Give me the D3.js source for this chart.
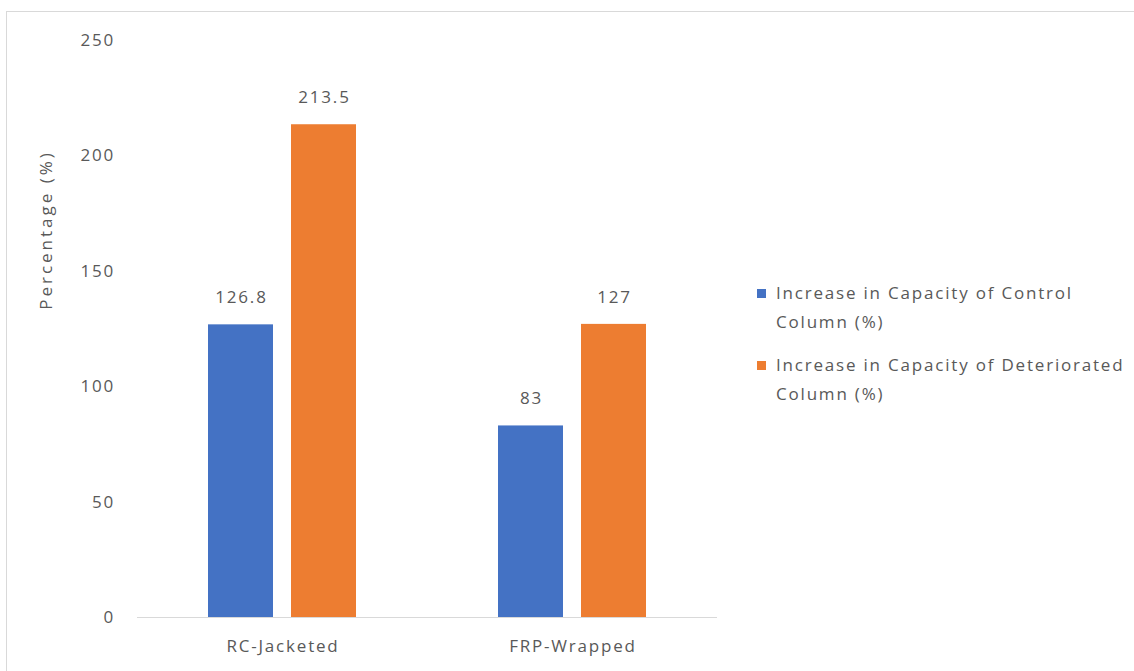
<!DOCTYPE html>
<html lang="en">
<head>
    <meta charset="UTF-8">
    <title>Increase in Capacity</title>
    <style>
        body { margin: 0; background: #fff; }
        text { font-family: "Open Sans", "Liberation Sans", sans-serif; fill: #595959; font-size: 17px; letter-spacing: 1.8px; }
    </style>
</head>
<body>
    <svg id="chart" width="1134" height="671"></svg>
    <script src="https://d3js.org/d3.v7.min.js"></script>
    <script>
        var categories = ["RC-Jacketed", "FRP-Wrapped"];
        var seriesNames = ["Increase in Capacity of Control Column (%)", "Increase in Capacity of Deteriorated Column (%)"];
        var controlValues = [126.8, 83];
        var deterioratedValues = [213.5, 127];
        var yTicks = [0, 50, 100, 150, 200, 250];
        var colors = ["#4472c4", "#ed7d31"];

        var svg = d3.select("#chart");

        // chart frame
        svg.append("rect")
           .attr("x", 6.5).attr("y", 11.5)
           .attr("width", 1140).attr("height", 680)
           .attr("fill", "none").attr("stroke", "#d9d9d9");

        var x = d3.scaleBand().domain(categories).range([137, 717]);
        var x1 = d3.scaleBand().domain([0, 1]).range([x.bandwidth() / 2 - 74, x.bandwidth() / 2 + 74]).paddingInner(0.217);
        var y = d3.scaleLinear().domain([0, 250]).range([617, 40]);

        // y tick labels
        svg.selectAll(".ytick").data(yTicks).enter().append("text")
           .attr("x", 115).attr("y", d => y(d))
           .attr("dy", "0.35em").attr("text-anchor", "end")
           .text(d => d);

        // axis title
        svg.append("text")
           .attr("transform", "translate(46,230) rotate(-90)")
           .attr("dy", "0.35em")
           .attr("text-anchor", "middle")
           .style("letter-spacing", "3px")
           .text("Percentage (%)");

        var rows = categories.map((c, i) => ({ cat: c, vals: [controlValues[i], deterioratedValues[i]] }));
        var groups = svg.selectAll(".grp").data(rows).enter().append("g")
                        .attr("transform", d => "translate(" + x(d.cat) + ",0)");
        var bars = groups.selectAll("g").data(d => d.vals.map((v, k) => ({ v: v, k: k }))).enter();
        bars.append("rect")
            .attr("x", d => x1(d.k)).attr("width", x1.bandwidth())
            .attr("y", d => y(d.v)).attr("height", d => y(0) - y(d.v))
            .attr("fill", d => colors[d.k]);
        bars.append("text")
            .attr("x", d => x1(d.k) + x1.bandwidth() / 2 + 1)
            .attr("y", d => y(d.v) - 27)
            .attr("dy", "0.35em").attr("text-anchor", "middle")
            .text(d => d.v);

        // baseline
        svg.append("line")
           .attr("x1", 137).attr("x2", 717)
           .attr("y1", y(0) + 0.5).attr("y2", y(0) + 0.5)
           .attr("stroke", "#d9d9d9");

        // category labels
        svg.selectAll(".xlab").data(categories).enter().append("text")
           .attr("x", d => x(d) + x.bandwidth() / 2 + 1).attr("y", 646)
           .attr("dy", "0.35em").attr("text-anchor", "middle")
           .text(d => d);

        // legend
        var legend = svg.append("g");
        var legendLines = [["Increase in Capacity of Control", "Column (%)"], ["Increase in Capacity of Deteriorated", "Column (%)"]];
        seriesNames.forEach((name, i) => {
            var top = 293 + i * 72;
            legend.append("rect")
                  .attr("x", 757).attr("y", top - 4)
                  .attr("width", 9).attr("height", 9)
                  .attr("fill", colors[i]);
            legend.append("text")
                  .attr("x", 776).attr("y", top)
                  .attr("dy", "0.35em")
                  .text(legendLines[i][0]);
            legend.append("text")
                  .attr("x", 776).attr("y", top + 29)
                  .attr("dy", "0.35em")
                  .text(legendLines[i][1]);
        });
    </script>
</body>
</html>
